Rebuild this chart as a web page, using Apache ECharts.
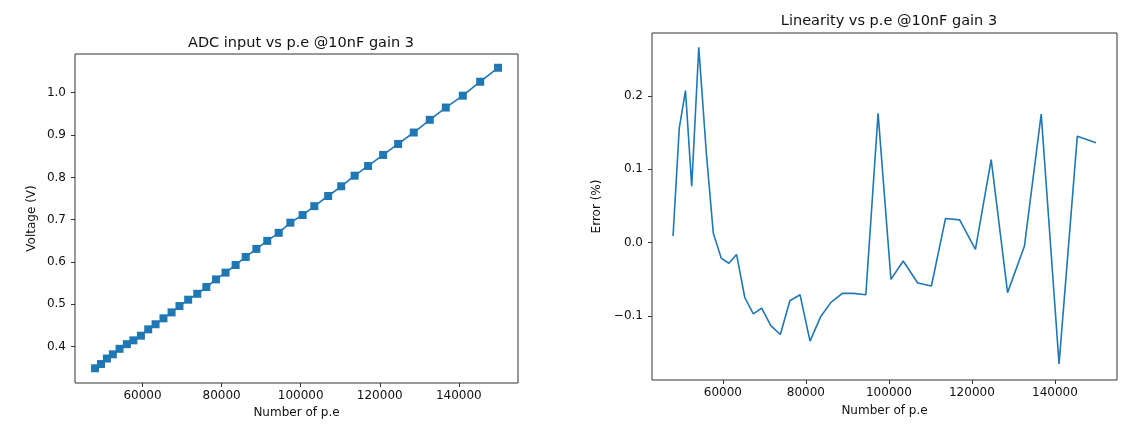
<!DOCTYPE html>
<html>
<head>
<meta charset="utf-8">
<script src="https://cdn.jsdelivr.net/npm/echarts@6/dist/echarts.min.js"></script>
<style>
  html, body { margin: 0; padding: 0; background: #fff; }
  #main { width: 1123px; height: 426px; }
</style>
</head>
<body>
<div id="main"></div>
<script>
// number of photo-electrons (shared by both plots)
var peX = [48000, 49500, 51000, 52500, 54200, 56050, 57700, 59600, 61450, 63300,
           65300, 67350, 69350, 71550, 73850, 76150, 78600, 81000, 83550, 86100,
           88800, 91550, 94450, 97400, 100500, 103450, 106950, 110250, 113650, 117050,
           120850, 124650, 128600, 132650, 136700, 141000, 145400, 149900];
// ADC input voltage (V)
var voltage = [0.349, 0.359, 0.372, 0.382, 0.395, 0.406, 0.415, 0.426, 0.441, 0.453,
               0.467, 0.481, 0.496, 0.511, 0.525, 0.541, 0.559, 0.575, 0.593, 0.612,
               0.631, 0.650, 0.669, 0.693, 0.711, 0.732, 0.756, 0.779, 0.804, 0.827,
               0.853, 0.879, 0.906, 0.936, 0.965, 0.993, 1.026, 1.059];
// linearity error (%)
var errorPct = [0.009, 0.156, 0.207, 0.077, 0.266, 0.120, 0.013, -0.021, -0.028, -0.016,
                -0.075, -0.097, -0.089, -0.113, -0.125, -0.079, -0.071, -0.134, -0.101, -0.081,
                -0.069, -0.069, -0.071, 0.176, -0.050, -0.025, -0.055, -0.059, 0.033, 0.031,
                -0.009, 0.113, -0.068, -0.005, 0.175, -0.165, 0.145, 0.136];
// tick labels
var xTicks = [60000, 80000, 100000, 120000, 140000];
var vTicks = [0.4, 0.5, 0.6, 0.7, 0.8, 0.9, 1.0];
var eTicks = [-0.1, 0.0, 0.1, 0.2];

var FONT = 'DejaVu Sans';
var TXT = '#111';
var BLUE = '#1f77b4';

function pairs(xs, ys) {
  var out = [];
  for (var i = 0; i < xs.length; i++) out.push([xs[i], ys[i]]);
  return out;
}
function fmt1(v) {
  var s = Math.abs(v).toFixed(1);
  return v < -1e-9 ? '\u2212' + s : s;
}

function xAxisCfg(idx) {
  return {
    type: 'value', gridIndex: idx, min: 42930, max: 154960,
    name: 'Number of p.e', nameLocation: 'middle', nameGap: idx === 0 ? 23 : 25,
    nameTextStyle: { fontFamily: FONT, fontSize: 12, color: TXT },
    axisLine: { show: false, onZero: false },
    axisTick: { show: true, inside: false, length: 4, customValues: xTicks, lineStyle: { color: '#333' } },
    axisLabel: { show: true, customValues: xTicks, margin: 7, fontFamily: FONT, fontSize: 12, color: TXT,
                 formatter: function (v) { return String(v); } },
    splitLine: { show: false }
  };
}

var myChart = echarts.init(document.getElementById('main'));
option = {
  animation: false,
  backgroundColor: '#fff',
  title: [
    { text: 'ADC input vs p.e @10nF gain 3', left: 296, top: 31, textAlign: 'center',
      textStyle: { fontFamily: FONT, fontSize: 14.5, fontWeight: 'normal', color: TXT } },
    { text: 'Linearity vs p.e @10nF gain 3', left: 884, top: 9, textAlign: 'center',
      textStyle: { fontFamily: FONT, fontSize: 14.5, fontWeight: 'normal', color: TXT } }
  ],
  grid: [
    { left: 75, right: 605, top: 54, bottom: 43, show: true, borderColor: '#333', borderWidth: 1, backgroundColor: 'transparent' },
    { left: 652, right: 6, top: 33, bottom: 46, show: true, borderColor: '#333', borderWidth: 1, backgroundColor: 'transparent' }
  ],
  xAxis: [ xAxisCfg(0), xAxisCfg(1) ],
  yAxis: [
    {
      type: 'value', gridIndex: 0, min: 0.3142, max: 1.0915,
      name: 'Voltage (V)', nameLocation: 'middle', nameGap: 37,
      nameTextStyle: { fontFamily: FONT, fontSize: 12, color: TXT },
      axisLine: { show: false, onZero: false },
      axisTick: { show: true, length: 4, customValues: vTicks, lineStyle: { color: '#333' } },
      axisLabel: { customValues: vTicks, margin: 9, fontFamily: FONT, fontSize: 12, color: TXT, formatter: fmt1 },
      splitLine: { show: false }
    },
    {
      type: 'value', gridIndex: 1, min: -0.187, max: 0.2855,
      name: 'Error (%)', nameLocation: 'middle', nameGap: 49,
      nameTextStyle: { fontFamily: FONT, fontSize: 12, color: TXT },
      axisLine: { show: false, onZero: false },
      axisTick: { show: true, length: 4, customValues: eTicks, lineStyle: { color: '#333' } },
      axisLabel: { customValues: eTicks, margin: 9, fontFamily: FONT, fontSize: 12, color: TXT, formatter: fmt1 },
      splitLine: { show: false }
    }
  ],
  series: [
    {
      type: 'line', xAxisIndex: 0, yAxisIndex: 0, data: pairs(peX, voltage),
      symbol: 'rect', symbolSize: 8, showSymbol: true,
      lineStyle: { color: BLUE, width: 1.6 }, itemStyle: { color: BLUE, borderWidth: 0 }
    },
    {
      type: 'line', xAxisIndex: 1, yAxisIndex: 1, data: pairs(peX, errorPct),
      symbol: 'none', showSymbol: false,
      lineStyle: { color: BLUE, width: 1.6 }
    }
  ]
};
myChart.setOption(option);
</script>
</body>
</html>
